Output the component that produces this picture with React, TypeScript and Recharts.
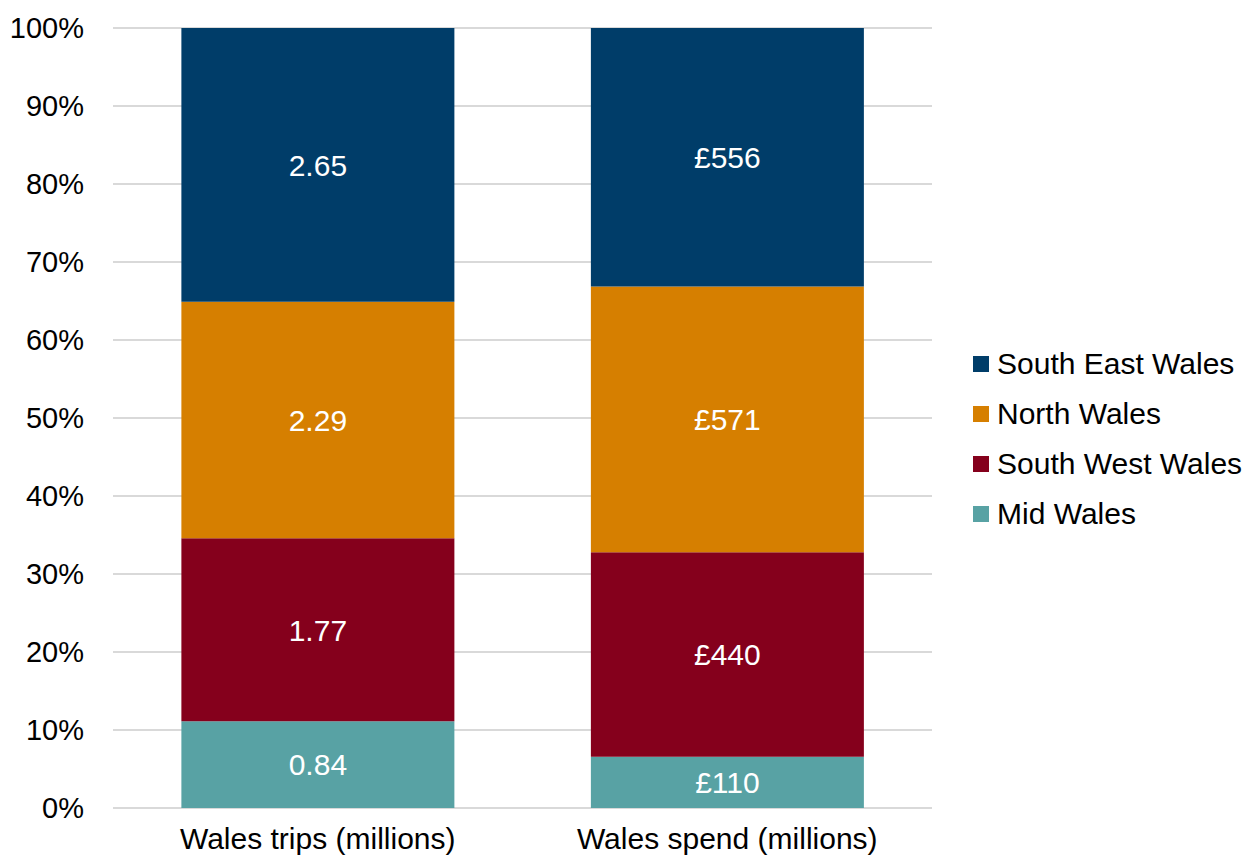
import React from 'react'
import { BarChart, Bar, XAxis, YAxis, CartesianGrid, LabelList } from 'recharts'

const categories = ['Wales trips (millions)', 'Wales spend (millions)']
const midWales = [0.84, 110]
const southWestWales = [1.77, 440]
const northWales = [2.29, 571]
const southEastWales = [2.65, 556]
const yTicks = [0, 0.1, 0.2, 0.3, 0.4, 0.5, 0.6, 0.7, 0.8, 0.9, 1]

const series = [
  { key: 'mid', name: 'Mid Wales', color: '#58a2a4' },
  { key: 'sw', name: 'South West Wales', color: '#85001c' },
  { key: 'north', name: 'North Wales', color: '#d67f00' },
  { key: 'se', name: 'South East Wales', color: '#003d69' },
]

const data = categories.map((c, i) => ({
  name: c,
  isSpend: i === 1,
  mid: midWales[i],
  sw: southWestWales[i],
  north: northWales[i],
  se: southEastWales[i],
}))

const FONT = '"Liberation Sans", Arial, sans-serif'

function fmt(spend: boolean) {
  return (v: any) => (spend ? `£${v}` : Number(v).toFixed(2))
}

function renderLabel(key: string) {
  return (props: any) => {
    const { x, y, width, height, index, value } = props
    const spend = data[index]?.isSpend
    return (
      <text
        x={x + width / 2}
        y={y + height / 2}
        dy="0.36em"
        textAnchor="middle"
        fill="#ffffff"
        fontSize={30}
        fontFamily={FONT}
      >
        {fmt(!!spend)(value)}
      </text>
    )
  }
}

function LegendBox() {
  const items = [...series].reverse()
  return (
    <div style={{ position: 'absolute', left: 973, top: 339, width: 280, fontFamily: FONT, fontSize: 30, color: '#000' }}>
      {items.map((s) => (
        <div key={s.key} style={{ display: 'flex', alignItems: 'center', height: 50 }}>
          <span style={{ width: 16, height: 16, background: s.color, display: 'inline-block', marginRight: 8 }} />
          <span style={{ whiteSpace: 'nowrap' }}>{s.name}</span>
        </div>
      ))}
    </div>
  )
}

export default function App() {
  return (
    <div style={{ position: 'absolute', left: 0, top: 0, width: 1252, height: 861, background: '#fff' }}>
      <BarChart
        width={1252}
        height={861}
        data={data}
        stackOffset="expand"
        barCategoryGap="16.7%"
        margin={{ top: 28, right: 320, left: 0, bottom: 13 }}
      >
        <CartesianGrid vertical={false} stroke="#d9d9d9" strokeWidth={2} />
        <XAxis
          dataKey="name"
          axisLine={false}
          tickLine={false}
          tickSize={0}
          tickMargin={20}
          height={40}
          interval={0}
          tick={{ fill: '#000', fontSize: 30, fontFamily: FONT }}
        />
        <YAxis
          width={113}
          domain={[0, 1]}
          ticks={yTicks}
          axisLine={false}
          tickLine={false}
          tickSize={0}
          tickMargin={29}
          tickFormatter={(v: number) => `${Math.round(v * 100)}%`}
          tick={{ fill: '#000', fontSize: 29, fontFamily: FONT }}
        />
        {series.map((s) => (
          <Bar key={s.key} dataKey={s.key} name={s.name} stackId="a" fill={s.color} isAnimationActive={false}>
            <LabelList dataKey={s.key} content={renderLabel(s.key)} />
          </Bar>
        ))}
      </BarChart>
      <LegendBox />
    </div>
  )
}
